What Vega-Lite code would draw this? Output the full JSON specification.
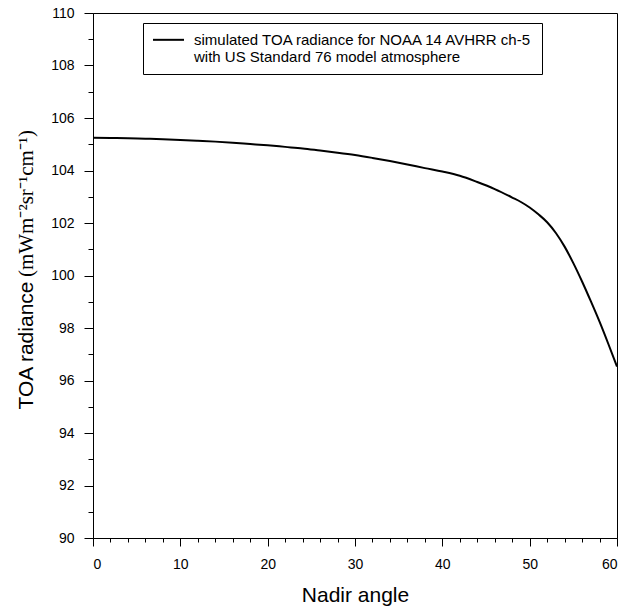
{
  "$schema": "https://vega.github.io/schema/vega-lite/v6.json",
  "autosize": {"type": "none"},
  "padding": {"left": 93, "top": 13, "right": 25, "bottom": 75},
  "width": 524,
  "height": 525,
  "background": "white",
  "config": {
    "view": {"stroke": "black", "strokeWidth": 1},
    "font": "Liberation Sans",
    "axis": {
      "domainColor": "black",
      "tickColor": "black",
      "labelColor": "black",
      "titleColor": "black",
      "grid": false,
      "labelFont": "Liberation Sans",
      "titleFont": "Liberation Sans",
      "titleFontWeight": "normal",
      "labelFontSize": 14
    }
  },
  "data": {
    "values": [
      {"angle": 0, "radiance": 105.25, "series": "simulated TOA radiance for NOAA 14 AVHRR ch-5"},
      {"angle": 2, "radiance": 105.24, "series": "simulated TOA radiance for NOAA 14 AVHRR ch-5"},
      {"angle": 4, "radiance": 105.23, "series": "simulated TOA radiance for NOAA 14 AVHRR ch-5"},
      {"angle": 6, "radiance": 105.21, "series": "simulated TOA radiance for NOAA 14 AVHRR ch-5"},
      {"angle": 8, "radiance": 105.19, "series": "simulated TOA radiance for NOAA 14 AVHRR ch-5"},
      {"angle": 10, "radiance": 105.16, "series": "simulated TOA radiance for NOAA 14 AVHRR ch-5"},
      {"angle": 12, "radiance": 105.13, "series": "simulated TOA radiance for NOAA 14 AVHRR ch-5"},
      {"angle": 14, "radiance": 105.10, "series": "simulated TOA radiance for NOAA 14 AVHRR ch-5"},
      {"angle": 16, "radiance": 105.06, "series": "simulated TOA radiance for NOAA 14 AVHRR ch-5"},
      {"angle": 18, "radiance": 105.01, "series": "simulated TOA radiance for NOAA 14 AVHRR ch-5"},
      {"angle": 20, "radiance": 104.96, "series": "simulated TOA radiance for NOAA 14 AVHRR ch-5"},
      {"angle": 22, "radiance": 104.90, "series": "simulated TOA radiance for NOAA 14 AVHRR ch-5"},
      {"angle": 24, "radiance": 104.84, "series": "simulated TOA radiance for NOAA 14 AVHRR ch-5"},
      {"angle": 26, "radiance": 104.76, "series": "simulated TOA radiance for NOAA 14 AVHRR ch-5"},
      {"angle": 28, "radiance": 104.68, "series": "simulated TOA radiance for NOAA 14 AVHRR ch-5"},
      {"angle": 30, "radiance": 104.59, "series": "simulated TOA radiance for NOAA 14 AVHRR ch-5"},
      {"angle": 32, "radiance": 104.48, "series": "simulated TOA radiance for NOAA 14 AVHRR ch-5"},
      {"angle": 34, "radiance": 104.36, "series": "simulated TOA radiance for NOAA 14 AVHRR ch-5"},
      {"angle": 36, "radiance": 104.23, "series": "simulated TOA radiance for NOAA 14 AVHRR ch-5"},
      {"angle": 38, "radiance": 104.09, "series": "simulated TOA radiance for NOAA 14 AVHRR ch-5"},
      {"angle": 40, "radiance": 103.96, "series": "simulated TOA radiance for NOAA 14 AVHRR ch-5"},
      {"angle": 42, "radiance": 103.80, "series": "simulated TOA radiance for NOAA 14 AVHRR ch-5"},
      {"angle": 44, "radiance": 103.56, "series": "simulated TOA radiance for NOAA 14 AVHRR ch-5"},
      {"angle": 46, "radiance": 103.29, "series": "simulated TOA radiance for NOAA 14 AVHRR ch-5"},
      {"angle": 48, "radiance": 102.97, "series": "simulated TOA radiance for NOAA 14 AVHRR ch-5"},
      {"angle": 49, "radiance": 102.80, "series": "simulated TOA radiance for NOAA 14 AVHRR ch-5"},
      {"angle": 50, "radiance": 102.59, "series": "simulated TOA radiance for NOAA 14 AVHRR ch-5"},
      {"angle": 51, "radiance": 102.33, "series": "simulated TOA radiance for NOAA 14 AVHRR ch-5"},
      {"angle": 52, "radiance": 102.03, "series": "simulated TOA radiance for NOAA 14 AVHRR ch-5"},
      {"angle": 53, "radiance": 101.62, "series": "simulated TOA radiance for NOAA 14 AVHRR ch-5"},
      {"angle": 54, "radiance": 101.10, "series": "simulated TOA radiance for NOAA 14 AVHRR ch-5"},
      {"angle": 55, "radiance": 100.47, "series": "simulated TOA radiance for NOAA 14 AVHRR ch-5"},
      {"angle": 56, "radiance": 99.77, "series": "simulated TOA radiance for NOAA 14 AVHRR ch-5"},
      {"angle": 57, "radiance": 99.02, "series": "simulated TOA radiance for NOAA 14 AVHRR ch-5"},
      {"angle": 58, "radiance": 98.24, "series": "simulated TOA radiance for NOAA 14 AVHRR ch-5"},
      {"angle": 59, "radiance": 97.40, "series": "simulated TOA radiance for NOAA 14 AVHRR ch-5"},
      {"angle": 60, "radiance": 96.53, "series": "simulated TOA radiance for NOAA 14 AVHRR ch-5"}
    ]
  },
  "resolve": {"axis": {"x": "independent", "y": "independent"}},
  "layer": [
    {
      "mark": {"type": "line", "interpolate": "monotone", "strokeWidth": 2, "clip": true},
      "encoding": {
        "x": {
          "field": "angle", "type": "quantitative",
          "scale": {"domain": [0, 60], "nice": false, "zero": false},
          "axis": {
            "orient": "bottom",
            "values": [0, 10, 20, 30, 40, 50, 60],
            "tickSize": 8,
            "labelPadding": 11,
            "title": "Nadir angle",
            "titleFontSize": 21,
            "titleY": 46,
            "titleBaseline": "top"
          }
        },
        "y": {
          "field": "radiance", "type": "quantitative",
          "scale": {"domain": [90, 110], "nice": false, "zero": false},
          "axis": {
            "orient": "left",
            "values": [90, 92, 94, 96, 98, 100, 102, 104, 106, 108, 110],
            "tickSize": 9,
            "labelPadding": 10,
            "title": "TOA radiance",
            "titleFontSize": 21,
            "titleAngle": -90,
            "titleAlign": "center",
            "titleBaseline": "alphabetic",
            "titleX": -61,
            "titleY": 332
          }
        },
        "color": {
          "field": "series",
          "type": "nominal",
          "scale": {"range": ["black"]},
          "legend": {
            "title": null,
            "orient": "none",
            "legendX": 50,
            "legendY": 10,
            "padding": 9,
            "strokeColor": "black",
            "symbolType": "M-1,-0.56H1",
            "symbolSize": 961,
            "symbolStrokeWidth": 2,
            "labelFont": "Liberation Sans",
            "labelFontSize": 15,
            "labelBaseline": "line-bottom",
            "labelColor": "black",
            "labelLimit": 0,
            "labelOffset": 9,
            "labelExpr": "[datum.label, 'with US Standard 76 model atmosphere']"
          }
        }
      }
    },
    {
      "mark": {"type": "point", "opacity": 0},
      "encoding": {
        "x": {
          "field": "angle", "type": "quantitative",
          "axis": {
            "orient": "bottom",
            "values": [2, 4, 6, 8, 12, 14, 16, 18, 22, 24, 26, 28, 32, 34, 36, 38, 42, 44, 46, 48, 52, 54, 56, 58],
            "tickSize": 4,
            "labels": false,
            "domain": false,
            "title": null
          }
        },
        "y": {
          "field": "radiance", "type": "quantitative",
          "axis": {
            "orient": "left",
            "values": [91, 93, 95, 97, 99, 101, 103, 105, 107, 109],
            "tickSize": 5,
            "labels": false,
            "domain": false,
            "title": "(mWm⁻²sr⁻¹cm⁻¹)",
            "titleFont": "Liberation Serif",
            "titleFontSize": 21,
            "titleAngle": -90,
            "titleAlign": "center",
            "titleBaseline": "alphabetic",
            "titleX": -61,
            "titleY": 190
          }
        }
      }
    }
  ]
}
